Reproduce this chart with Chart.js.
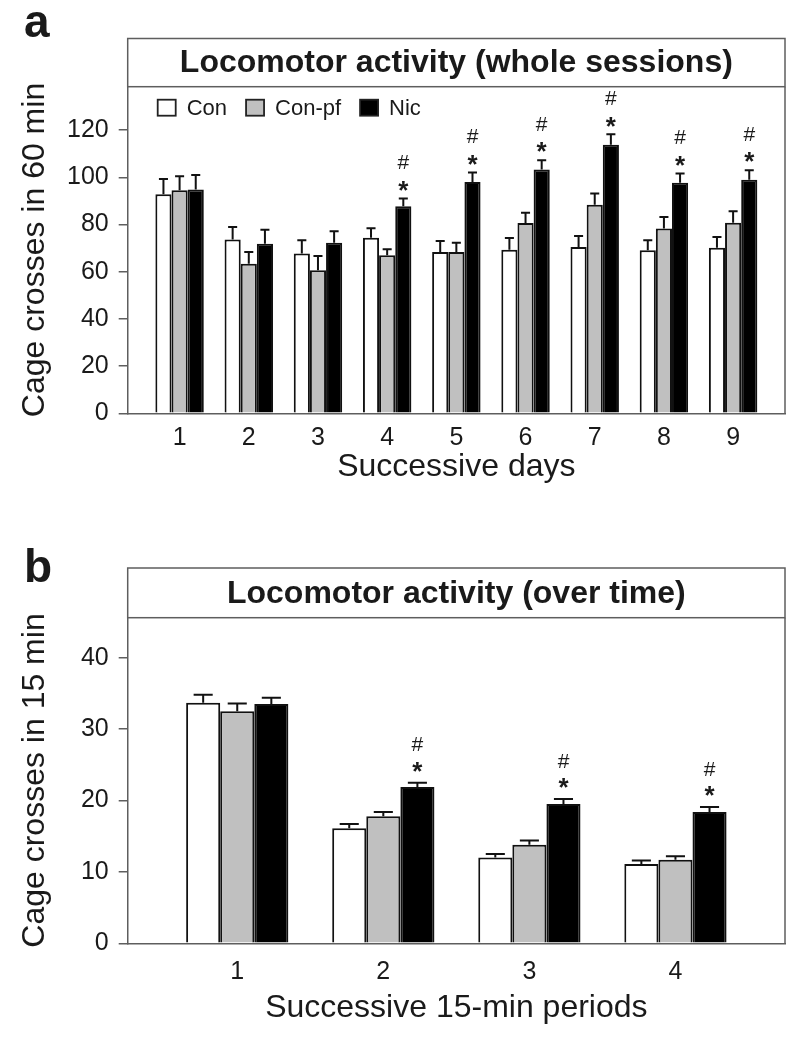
<!DOCTYPE html>
<html>
<head>
<meta charset="utf-8">
<script src="https://cdn.jsdelivr.net/npm/chart.js@4.4.0/dist/chart.umd.min.js"></script>
<style>
  html, body { margin: 0; padding: 0; background: #fff; }
  #wrapA { position: absolute; left: 0; top: 0; width: 800px; height: 500px; }
  #wrapB { position: absolute; left: 0; top: 500px; width: 800px; height: 538px; }
</style>
</head>
<body>
<div id="wrapA"><canvas id="chartA"></canvas></div>
<div id="wrapB"><canvas id="chartB"></canvas></div>
<script>
// Panel a: whole sessions, per day
const days = [1, 2, 3, 4, 5, 6, 7, 8, 9];
const conA = [92.8, 73.6, 67.7, 74.4, 68.3, 69.3, 70.5, 69.1, 70.2];
const conSemA = [6.5, 5.3, 5.6, 4.0, 4.7, 5.0, 4.6, 4.2, 4.5];
const conPfA = [94.5, 63.4, 60.6, 67.0, 68.3, 80.6, 88.4, 78.3, 80.8];
const conPfSemA = [5.9, 5.0, 6.1, 2.5, 4.0, 4.4, 4.7, 4.9, 4.8];
const nicA = [94.8, 71.9, 72.3, 87.7, 98.0, 103.3, 113.8, 97.7, 99.0];
const nicSemA = [6.2, 5.9, 4.8, 3.3, 4.0, 3.9, 4.4, 3.9, 4.0];
const sigA = [false, false, false, true, true, true, true, true, true];
const yTicksA = [0, 20, 40, 60, 80, 100, 120];

// Panel b: 15-min periods
const periods = [1, 2, 3, 4];
const conB = [33.7, 16.1, 12.0, 11.1];
const conSemB = [1.1, 0.6, 0.5, 0.5];
const conPfB = [32.5, 17.8, 13.8, 11.7];
const conPfSemB = [1.1, 0.6, 0.6, 0.5];
const nicB = [33.5, 21.9, 19.5, 18.4];
const nicSemB = [0.9, 0.6, 0.7, 0.7];
const sigB = [false, true, true, true];
const yTicksB = [0, 10, 20, 30, 40];

const FONT = '"Liberation Sans", Arial, sans-serif';
const LINE = '#5e5e5e';
const INK = '#1a1a1a';

// error bars, significance marks, title box, legend and panel letter
const panelDecor = {
  id: 'panelDecor',
  afterDatasetsDraw(chart, args, opts) {
    const ctx = chart.ctx;
    const y = chart.scales.y;
    ctx.save();
    ctx.strokeStyle = '#111';
    ctx.lineWidth = 2;
    chart.data.datasets.forEach((ds, di) => {
      const meta = chart.getDatasetMeta(di);
      meta.data.forEach((bar, i) => {
        const top = y.getPixelForValue(ds.data[i].y + ds.sem[i]);
        const half = bar.width * 0.28;
        ctx.beginPath();
        ctx.moveTo(bar.x, bar.y);
        ctx.lineTo(bar.x, top);
        ctx.moveTo(bar.x - half, top);
        ctx.lineTo(bar.x + half, top);
        ctx.stroke();
      });
    });
    // marks over the Nic bars
    const nicDs = chart.data.datasets[2];
    const nicMeta = chart.getDatasetMeta(2);
    ctx.fillStyle = INK;
    ctx.textAlign = 'center';
    ctx.textBaseline = 'middle';
    opts.sig.forEach((on, i) => {
      if (!on) return;
      const bar = nicMeta.data[i];
      const cap = y.getPixelForValue(nicDs.data[i].y + nicDs.sem[i]);
      const starY = cap - opts.starGap;
      ctx.font = 'bold 26px ' + FONT;
      ctx.fillText('*', bar.x, starY + 6);
      ctx.font = '21px ' + FONT;
      ctx.fillText('#', bar.x, starY - opts.hashGap);
    });
    ctx.restore();
  },
  afterDraw(chart, args, opts) {
    const ctx = chart.ctx;
    const a = chart.chartArea;
    ctx.save();
    ctx.strokeStyle = LINE;
    ctx.lineWidth = 1.5;
    ctx.strokeRect(a.left, opts.boxTop, a.right - a.left, a.top - opts.boxTop);
    ctx.beginPath();
    ctx.moveTo(a.right, a.top);
    ctx.lineTo(a.right, a.bottom);
    ctx.stroke();

    ctx.fillStyle = INK;
    ctx.textAlign = 'center';
    ctx.textBaseline = 'middle';
    ctx.font = 'bold 32px ' + FONT;
    ctx.fillText(opts.title, (a.left + a.right) / 2, (opts.boxTop + a.top) / 2 + 1);

    ctx.textAlign = 'left';
    ctx.textBaseline = 'alphabetic';
    ctx.font = 'bold 46px ' + FONT;
    ctx.fillText(opts.letter, 24, opts.letterY);

    if (opts.legend) {
      let lx = a.left + 30;
      const ly = a.top + 21;
      ctx.font = '22px ' + FONT;
      ctx.textBaseline = 'middle';
      chart.data.datasets.forEach(ds => {
        ctx.fillStyle = ds.backgroundColor;
        ctx.fillRect(lx, ly - 8, 18, 16);
        ctx.strokeStyle = '#222';
        ctx.lineWidth = 1.8;
        ctx.strokeRect(lx, ly - 8, 18, 16);
        ctx.fillStyle = INK;
        ctx.fillText(ds.label, lx + 29, ly + 1);
        lx += 29 + ctx.measureText(ds.label).width + 19;
      });
    }
    ctx.restore();
  }
};

function series(xs, ys) {
  return xs.map((v, i) => ({ x: v, y: ys[i] }));
}

function makeDatasets(xs, con, conSem, conPf, conPfSem, nic, nicSem) {
  const common = { borderColor: '#111', borderWidth: 2, categoryPercentage: 0.7, barPercentage: 1.0 };
  return [
    Object.assign({ label: 'Con', data: series(xs, con), sem: conSem, backgroundColor: '#ffffff' }, common),
    Object.assign({ label: 'Con-pf', data: series(xs, conPf), sem: conPfSem, backgroundColor: '#c0c0c0' }, common),
    Object.assign({ label: 'Nic', data: series(xs, nic), sem: nicSem, backgroundColor: '#000000' }, common)
  ];
}

function makeOptions(p) {
  return {
    responsive: true,
    maintainAspectRatio: false,
    animation: false,
    layout: { padding: { left: 0, right: 15, top: p.top, bottom: 0 } },
    plugins: {
      legend: { display: false },
      tooltip: { enabled: false },
      panelDecor: p.decor
    },
    scales: {
      x: {
        type: 'linear',
        offset: false,
        min: p.xMin,
        max: p.xMax,
        afterBuildTicks: s => { s.ticks = p.xTicks.map(v => ({ value: v })); },
        afterFit: s => { s.height = p.xHeight; },
        ticks: { font: { family: FONT, size: 25 }, color: INK, padding: p.xPad, maxRotation: 0, autoSkip: false },
        grid: { display: false, drawTicks: false },
        border: { display: true, color: LINE, width: 1.5 },
        title: { display: true, text: p.xTitle, color: INK, font: { family: FONT, size: 32, lineHeight: 1 }, padding: { top: 0, bottom: p.xTitlePad } }
      },
      y: {
        min: 0,
        max: p.yMax,
        afterBuildTicks: s => { s.ticks = p.yTicks.map(v => ({ value: v })); },
        afterFit: s => { s.width = 127.7; },
        ticks: { font: { family: FONT, size: 25 }, color: INK, padding: 10 },
        grid: { drawOnChartArea: false, drawTicks: true, tickLength: 9, color: LINE, lineWidth: 1.5 },
        border: { display: true, color: LINE, width: 1.5 },
        title: { display: true, text: p.yTitle, color: INK, font: { family: FONT, size: 32, lineHeight: 1 }, padding: { top: 19, bottom: 0 } }
      }
    }
  };
}

const chartA = new Chart(document.getElementById('chartA').getContext('2d'), {
  type: 'bar',
  data: { datasets: makeDatasets(days, conA, conSemA, conPfA, conPfSemA, nicA, nicSemA) },
  options: makeOptions({
    top: 86.7, xMin: 0.25, xMax: 9.75, xTicks: days, xHeight: 86.7, xPad: 10,
    xTitle: 'Successive days', xTitlePad: 17,
    yMax: 138.4, yTicks: yTicksA, yTitle: 'Cage crosses in 60 min',
    decor: { title: 'Locomotor activity (whole sessions)', boxTop: 38.5, letter: 'a', letterY: 37, legend: true, sig: sigA, starGap: 13, hashGap: 22 }
  }),
  plugins: [panelDecor]
});

const chartB = new Chart(document.getElementById('chartB').getContext('2d'), {
  type: 'bar',
  data: { datasets: makeDatasets(periods, conB, conSemB, conPfB, conPfSemB, nicB, nicSemB) },
  options: makeOptions({
    top: 117.7, xMin: 0.25, xMax: 4.75, xTicks: periods, xHeight: 94.7, xPad: 14,
    xTitle: 'Successive 15-min periods', xTitlePad: 14,
    yMax: 45.6, yTicks: yTicksB, yTitle: 'Cage crosses in 15 min',
    decor: { title: 'Locomotor activity (over time)', boxTop: 68, letter: 'b', letterY: 82, legend: false, sig: sigB, starGap: 16, hashGap: 21 }
  }),
  plugins: [panelDecor]
});
</script>
</body>
</html>
